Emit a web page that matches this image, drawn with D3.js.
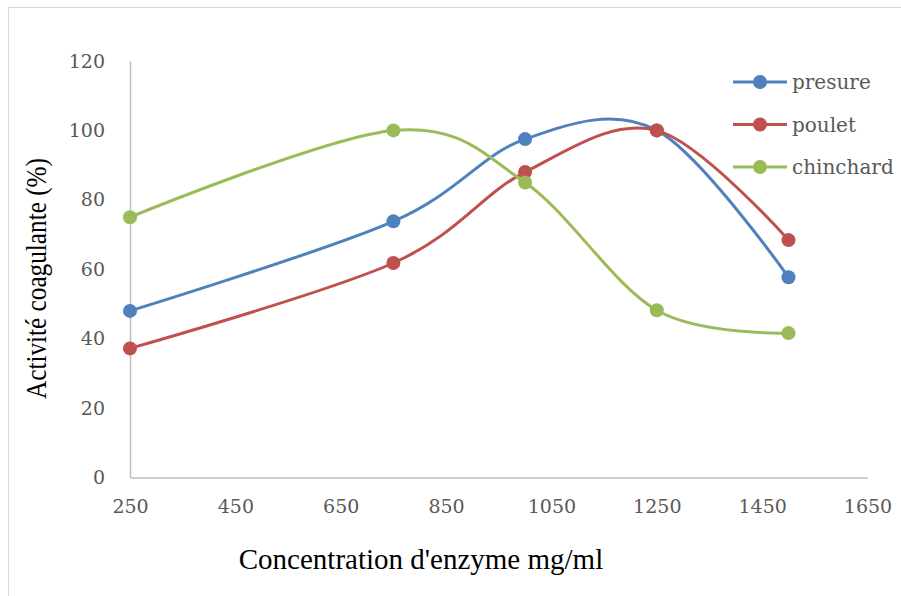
<!DOCTYPE html>
<html><head><meta charset="utf-8">
<script src="https://cdn.jsdelivr.net/npm/d3@7"></script>
<style>body{margin:0;background:#fff;} svg{display:block;}</style>
</head><body>
<svg id="chart" width="901" height="596"></svg>
<script>
const concentrations = [250, 750, 1000, 1250, 1500];
const presure = [48, 73.8, 97.5, 100, 57.7];
const poulet = [37.2, 61.8, 88, 100, 68.4];
const chinchard = [75, 100, 85, 48.2, 41.6];
const seriesNames = ["presure", "poulet", "chinchard"];
const seriesColors = ["#4F81BD", "#C0504D", "#9BBB59"];
const xTicks = [250, 450, 650, 850, 1050, 1250, 1450, 1650];
const yTicks = [0, 20, 40, 60, 80, 100, 120];

const svg = d3.select("#chart");
svg.append("rect").attr("x", 8.5).attr("y", 7.5).attr("width", 900).attr("height", 600)
  .attr("fill", "#fff").attr("stroke", "#d9d9d9").attr("stroke-width", 1);

const x = d3.scaleLinear().domain([250, 1650]).range([130, 867.5]);
const y = d3.scaleLinear().domain([0, 120]).range([477.5, 61]);

const tickFont = "'DejaVu Serif', serif";
const titleFont = "'Liberation Serif', 'Times New Roman', serif";
// y axis
const yAxis = svg.append("g").attr("transform", "translate(130,0)")
  .call(d3.axisLeft(y).tickValues(yTicks).tickSize(0).tickPadding(25));
yAxis.select(".domain").attr("stroke", "#bfbfbf").attr("stroke-width", 1.5);
yAxis.selectAll("text").attr("font-family", tickFont).attr("font-size", 19).attr("fill", "#595959");

const xAxis = svg.append("g").attr("transform", "translate(0,477.5)")
  .call(d3.axisBottom(x).tickValues(xTicks).tickSize(0).tickPadding(22).tickFormat(d3.format("d")));
xAxis.select(".domain").attr("stroke", "#bfbfbf").attr("stroke-width", 1.5);
xAxis.selectAll("text").attr("font-family", tickFont).attr("font-size", 19).attr("fill", "#595959");

// titles
svg.append("text").attr("x", 421).attr("y", 569).attr("text-anchor", "middle")
  .attr("font-family", titleFont).attr("font-size", 29).attr("fill", "#000")
  .text("Concentration d'enzyme mg/ml");
svg.append("text").attr("transform", "translate(46,278.5) rotate(-90)").attr("text-anchor", "middle")
  .attr("font-family", titleFont).attr("font-size", 29).attr("fill", "#000")
  .attr("textLength", 241).attr("lengthAdjust", "spacingAndGlyphs")
  .text("Activité coagulante (%)");

const allSeries = [presure, poulet, chinchard];
const line = d3.line().x(d => x(d[0])).y(d => y(d[1])).curve(d3.curveCardinal.tension(0));

allSeries.forEach((vals, i) => {
  const pts = concentrations.map((c, j) => [c, vals[j]]);
  svg.append("path").datum(pts).attr("d", line).attr("fill", "none")
    .attr("stroke", seriesColors[i]).attr("stroke-width", 3);
});
allSeries.forEach((vals, i) => {
  const pts = concentrations.map((c, j) => [c, vals[j]]);
  svg.append("g").selectAll("circle").data(pts).join("circle")
    .attr("cx", d => x(d[0])).attr("cy", d => y(d[1])).attr("r", 7)
    .attr("fill", seriesColors[i]);
});

// legend
const legend = svg.append("g");
seriesNames.forEach((name, i) => {
  const ly = 82 + i * 42.5;
  legend.append("line").attr("x1", 733).attr("x2", 787).attr("y1", ly).attr("y2", ly)
    .attr("stroke", seriesColors[i]).attr("stroke-width", 3);
  legend.append("circle").attr("cx", 760).attr("cy", ly).attr("r", 7).attr("fill", seriesColors[i]);
  legend.append("text").attr("x", 792).attr("y", ly).attr("dy", "0.35em")
    .attr("font-family", tickFont).attr("font-size", 20).attr("fill", "#595959").text(name);
});
</script>
</body></html>
